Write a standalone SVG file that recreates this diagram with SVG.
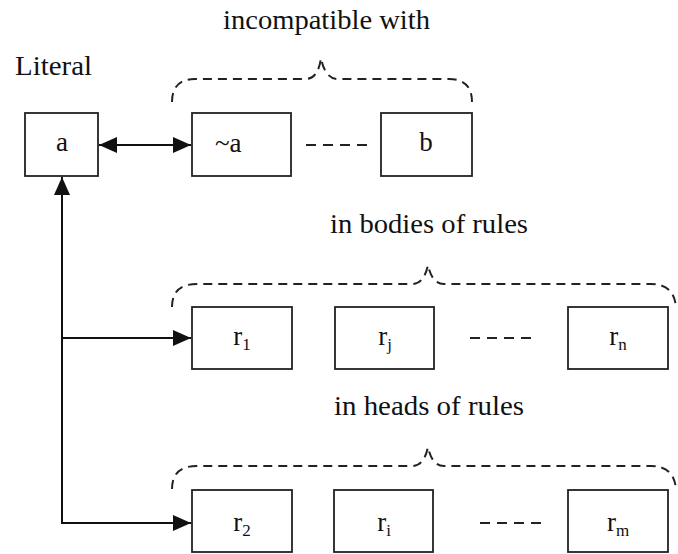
<svg xmlns="http://www.w3.org/2000/svg" width="678" height="554" viewBox="0 0 678 554">
  <style>
    text { font-family: "Liberation Serif", "Times New Roman", serif; font-size: 27px; fill: #111; }
    .box { fill: #fff; stroke: #222; stroke-width: 1.8; }
    .lbl { text-anchor: middle; }
    .sub { font-size: 17px; }
    .line { fill: none; stroke: #111; stroke-width: 2; }
    .dots { fill: none; stroke: #222; stroke-width: 2; stroke-dasharray: 10 7; }
    .brace { fill: none; stroke: #222; stroke-width: 2; stroke-dasharray: 9 6; }
  </style>
  <defs>
    <marker id="head" markerUnits="userSpaceOnUse" markerWidth="18" markerHeight="16" refX="18" refY="8" orient="auto-start-reverse">
      <path d="M0,0 L18,8 L0,16 z" fill="#111"/>
    </marker>
  </defs>

  <rect width="678" height="554" fill="#fff"/>

  <!-- captions -->
  <text x="223" y="29" font-size="26" textLength="207" lengthAdjust="spacingAndGlyphs">incompatible with</text>
  <text x="15" y="75" textLength="77" lengthAdjust="spacingAndGlyphs">Literal</text>
  <text x="330" y="233" textLength="198" lengthAdjust="spacingAndGlyphs">in bodies of rules</text>
  <text x="334" y="415" textLength="190" lengthAdjust="spacingAndGlyphs">in heads of rules</text>

  <!-- braces -->
  <g id="braces">
    <path class="brace" d="M172,102 Q172,79 195,79 L306,79 Q318,79 321,58 Q325,79 338,79 L449,79 Q472,79 472,102"/>
    <path class="brace" d="M172,307 Q172,284 197,284 L412,284 Q424,284 428,265 Q432,284 444,284 L651,284 Q674,284 676,307"/>
    <path class="brace" d="M172,489 Q172,466 197,466 L412,466 Q424,466 428,447 Q432,466 444,466 L651,466 Q674,466 676,489"/>
  </g>

  <!-- nodes -->
  <g id="node-a">
    <rect class="box" x="25" y="113" width="73" height="63"/>
    <text class="lbl" x="62" y="151" font-size="28">a</text>
  </g>
  <g id="node-not-a">
    <rect class="box" x="192" y="113" width="99" height="63"/>
    <text x="215" y="152" font-size="28">~a</text>
  </g>
  <g id="node-b">
    <rect class="box" x="381" y="113" width="91" height="63"/>
    <text class="lbl" x="426" y="151" font-size="28">b</text>
  </g>

  <g id="node-r1">
    <rect class="box" x="192" y="307" width="100" height="62"/>
    <text class="lbl" x="242" y="345">r<tspan class="sub" dy="5">1</tspan></text>
  </g>
  <g id="node-rj">
    <rect class="box" x="335" y="307" width="99" height="62"/>
    <text class="lbl" x="385" y="345">r<tspan class="sub" dy="5">j</tspan></text>
  </g>
  <g id="node-rn">
    <rect class="box" x="568" y="307" width="100" height="62"/>
    <text class="lbl" x="618" y="345">r<tspan class="sub" dy="5">n</tspan></text>
  </g>

  <g id="node-r2">
    <rect class="box" x="192" y="490" width="100" height="62"/>
    <text class="lbl" x="242" y="531">r<tspan class="sub" dy="5">2</tspan></text>
  </g>
  <g id="node-ri">
    <rect class="box" x="334" y="490" width="99" height="62"/>
    <text class="lbl" x="384" y="531">r<tspan class="sub" dy="5">i</tspan></text>
  </g>
  <g id="node-rm">
    <rect class="box" x="568" y="490" width="100" height="62"/>
    <text class="lbl" x="618" y="531">r<tspan class="sub" dy="5">m</tspan></text>
  </g>

  <!-- connectors -->
  <g id="connectors">
    <path class="line" d="M99,145 L191,145" marker-start="url(#head)" marker-end="url(#head)"/>
    <path class="line" d="M62,523 L62,177" marker-end="url(#head)"/>
    <path class="line" d="M62,338 L191,338" marker-end="url(#head)"/>
    <path class="line" d="M61,523 L191,523" marker-end="url(#head)"/>
    <path class="dots" d="M306,145 L368,145"/>
    <path class="dots" d="M470,338 L532,338"/>
    <path class="dots" d="M480,523 L543,523"/>
  </g>
</svg>
